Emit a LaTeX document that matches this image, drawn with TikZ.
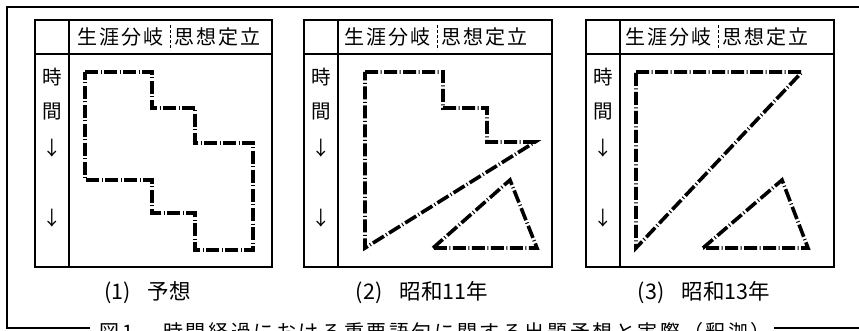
\documentclass[tikz,border=0pt]{standalone}
\usepackage{fontspec}
\newfontfamily\jp{Noto Sans CJK JP}
\newlength\lsp
\def\mygobble#1{}
\def\spaced#1{\spacedaux#1\relax}
\def\spacedaux#1{#1\futurelet\next\spacedcheck}
\def\spacedcheck{\ifx\next\relax\expandafter\mygobble\else\kern\lsp\expandafter\spacedaux\fi}
\newcommand\drawpanel[6]{%
  \draw[tbl] (#1,20) rectangle (#3,267);
  \draw[tbl] (#1,54) -- (#3,54);
  \draw[tbl] (#2,20) -- (#2,267);
  \draw[line width=0.8pt, dash pattern=on 3pt off 2pt] (#4,25) -- (#4,50);
  \node[hdr, anchor=east] (ha#5) at ({#4-6},37) {\spaced{生涯分岐}};
  \node[hdr, anchor=west] (hb#5) at ({#4+4},37) {\spaced{思想定立}};
  \node[col] (t#5) at ({(#1+#2)/2},77) {時};
  \node[col] (k#5) at ({(#1+#2)/2},112) {間};
  \node[col] (a#5) at ({(#1+#2)/2},148) {↓};
  \node[col] (b#5) at ({(#1+#2)/2},218) {↓};
  \node[pcap] (c#5) at ({(#1+#3)/2-6},293) {#6};
}
\begin{document}
\begin{tikzpicture}[x=1pt,y=-1pt,
  frame/.style={line width=1.1pt},
  tbl/.style={line width=1.3pt},
  hatch/.style={line width=3.6pt, dash pattern=on 13pt off 2.5pt on 1pt off 2.5pt, line join=miter},
  hdr/.style={font=\jp\fontsize{20}{20}\selectfont\setlength\lsp{2.1pt}, inner sep=0pt},
  col/.style={font=\jp\fontsize{19.5}{19.5}\selectfont, inner sep=0pt},
  pcap/.style={font=\jp\fontsize{21.5}{21.5}\selectfont, inner sep=0pt},
  figcap/.style={font=\jp\fontsize{20}{20}\selectfont\setlength\lsp{2.6pt}, inner sep=0pt}]
\useasboundingbox (0,0) rectangle (859,331);
\clip (0,0) rectangle (859,331);
% outer frame
\draw[frame] (859,7) -- (7,7) -- (7,328) -- (90,328);
\draw[frame] (774,328) -- (859,328);
% panels
\drawpanel{35}{69}{272}{170}{1}{(1)\hspace{0.8em}予想}
\drawpanel{304}{338}{552}{437}{2}{(2)\hspace{0.8em}昭和11年}
\drawpanel{586}{620}{834}{718}{3}{(3)\hspace{0.8em}昭和13年}
% shapes
\draw[hatch] (85,72) -- (152,72) -- (152,108) -- (195,108) -- (195,143) -- (253,143)
  -- (253,250) -- (195,250) -- (195,213) -- (152,213) -- (152,180) -- (85,180) -- cycle;
\draw[hatch] (365,72) -- (443,72) -- (443,108) -- (487,108) -- (487,142) -- (535,142) -- (365,248) -- cycle;
\draw[hatch] (433,248) -- (510,180) -- (537,248) -- cycle;
\draw[hatch] (636,72) -- (802,72) -- (636,248) -- cycle;
\draw[hatch] (703,248) -- (782,180) -- (808,248) -- cycle;
% figure caption
\node[figcap, anchor=west] (fig) at (99,332) {図\kern3pt 1\hspace{1.5em}\spaced{時間経過における重要語句に関する出題予想と実際（釈迦）}};
\end{tikzpicture}
\end{document}
